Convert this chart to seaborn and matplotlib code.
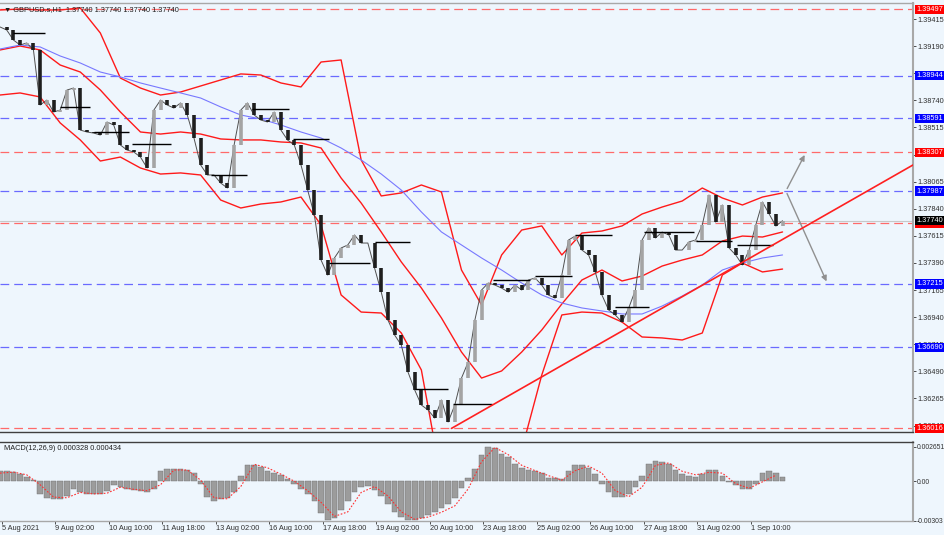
import numpy as np
import pandas as pd
import matplotlib
matplotlib.use("Agg")
import matplotlib.pyplot as plt
import seaborn as sns

# ---- data ----
# H1 closes sampled every 4 bars (bar index = 4*k)
closes = [1.39349, 1.39324, 1.39241, 1.39199, 1.39216, 1.39158, 1.38701, 1.38742, 1.38643, 1.38659,
          1.38825, 1.38842, 1.38493, 1.38477, 1.38468, 1.38452, 1.38560, 1.38535, 1.38369, 1.38327,
          1.38311, 1.38269, 1.38178, 1.38659, 1.38742, 1.38701, 1.38676, 1.38718, 1.38618, 1.38427,
          1.38203, 1.38120, 1.38120, 1.38053, 1.38012, 1.38369, 1.38659, 1.38718, 1.38618, 1.38576,
          1.38560, 1.38643, 1.38493, 1.38410, 1.38369, 1.38203, 1.37995, 1.37788, 1.37414, 1.37289,
          1.37431, 1.37514, 1.37539, 1.37622, 1.37555, 1.37555, 1.37348, 1.37148, 1.36916, 1.36791,
          1.36708, 1.36484, 1.36335, 1.36210, 1.36169, 1.36102, 1.36252, 1.36069, 1.36210, 1.36434,
          1.36567, 1.36916, 1.37165, 1.37223, 1.37206, 1.37181, 1.37148, 1.37206, 1.37165, 1.37248,
          1.37265, 1.37206, 1.37123, 1.37098, 1.37289, 1.37580, 1.37613, 1.37497, 1.37456, 1.37314,
          1.37123, 1.36999, 1.36957, 1.36899, 1.37015, 1.37165, 1.37580, 1.37680, 1.37597, 1.37646,
          1.37622, 1.37497, 1.37497, 1.37564, 1.37580, 1.37705, 1.37954, 1.37729, 1.37871, 1.37514,
          1.37456, 1.37373, 1.37497, 1.37705, 1.37896, 1.37796, 1.37696, 1.37740]

# Bollinger bands and moving average, sampled every 12 bars
bb_upper = [1.39490, 1.39498, 1.39490, 1.39490, 1.39507, 1.39299, 1.38925, 1.38842, 1.38784, 1.38809,
            1.38859, 1.38909, 1.38959, 1.38950, 1.38884, 1.38851, 1.39058, 1.39075, 1.38245, 1.37946,
            1.37971, 1.38037, 1.37979, 1.37331, 1.37041, 1.37456, 1.37663, 1.37697, 1.37456, 1.37638,
            1.37655, 1.37697, 1.37796, 1.37854, 1.37904, 1.38012, 1.37929, 1.37871, 1.37937, 1.37971]
bb_middle = [1.39158, 1.39191, 1.39158, 1.39033, 1.38975, 1.38826, 1.38643, 1.38477, 1.38460, 1.38477,
             1.38460, 1.38419, 1.38411, 1.38411, 1.38394, 1.38386, 1.38344, 1.38095, 1.37887, 1.37647,
             1.37398, 1.37182, 1.36933, 1.36650, 1.36434, 1.36493, 1.36650, 1.36833, 1.37049, 1.37248,
             1.37331, 1.37240, 1.37281, 1.37364, 1.37414, 1.37456, 1.37572, 1.37613, 1.37605, 1.37647]
bb_lower = [1.38784, 1.38801, 1.38768, 1.38552, 1.38411, 1.38236, 1.38269, 1.38178, 1.38128, 1.38137,
            1.38120, 1.37912, 1.37846, 1.37879, 1.37896, 1.37937, 1.37705, 1.37124, 1.36982, 1.36974,
            1.36808, 1.36501, 1.35588, 1.35338, 1.35297, 1.35421, 1.35837, 1.36459, 1.36958, 1.36982,
            1.36974, 1.36899, 1.36775, 1.36767, 1.36750, 1.36808, 1.37290, 1.37389, 1.37315, 1.37339]
ma_blue = [1.39166, 1.39199, 1.39183, 1.39108, 1.39050, 1.38975, 1.38934, 1.38884, 1.38842, 1.38801,
           1.38759, 1.38685, 1.38618, 1.38585, 1.38535, 1.38477, 1.38427, 1.38344, 1.38245, 1.38128,
           1.37995, 1.37813, 1.37647, 1.37539, 1.37431, 1.37331, 1.37223, 1.37124, 1.37057, 1.37016,
           1.36991, 1.36966, 1.36966, 1.37032, 1.37115, 1.37207, 1.37331, 1.37389, 1.37431, 1.37456]

# daily open markers: start bar, end bar, level
day_start = [8, 36, 56, 79, 126, 151, 175, 197, 224, 248, 271, 295, 320, 344, 368, 385, 416, 441]
day_end = [27, 54, 77, 102, 148, 173, 197, 221, 245, 268, 294, 317, 342, 366, 388, 415, 438, 462]
day_level = [1.39299, 1.38684, 1.38477, 1.38377, 1.38120, 1.38668, 1.38419, 1.37389, 1.37563, 1.36343,
             1.36218, 1.37248, 1.37281, 1.37622, 1.37024, 1.37646, 1.37572, 1.37539]

red_levels = [1.39497, 1.38307, 1.37719, 1.36016]
blue_levels = [1.38944, 1.38591, 1.37987, 1.37215, 1.36690]
last_price = 1.37740

trend_bars = [270, 546]
trend_prices = [1.36016, 1.38203]
arrow_from = (470, 1.37987)
arrow_up = (482, 1.38307)
arrow_down = (495, 1.37215)

# MACD main (every 4 bars) and signal (every 8 bars), in 1e-4
macd_main = [7.6, 7.6, 7.0, 5.4, 3.5, 0.8, -10.0, -12.7, -14.0, -13.5,
             -11.3, -5.9, -8.1, -9.5, -10.0, -10.0, -7.3, -3.2, -4.6, -5.9,
             -6.5, -7.3, -8.6, -5.9, 7.6, 9.7, 9.7, 9.7, 8.9, 6.2,
             -2.2, -12.2, -15.4, -14.0, -12.7, -8.6, 4.1, 12.4, 12.7, 10.8,
             7.6, 6.2, 4.9, 1.6, -2.2, -5.9, -9.5, -15.4, -24.3, -29.7,
             -28.1, -22.1, -14.9, -8.4, -4.3, -3.8, -6.8, -11.3, -17.6, -23.5,
             -27.5, -29.4, -29.7, -28.4, -25.9, -23.5, -20.8, -17.6, -12.7, -4.9,
             2.7, 9.5, 20.3, 26.5, 25.1, 21.1, 18.4, 13.0, 10.3, 8.9,
             8.1, 6.2, 2.7, 2.2, 1.4, 8.1, 12.4, 12.4, 10.0, 5.4,
             -1.9, -8.4, -11.9, -12.2, -9.5, -4.6, 4.1, 13.0, 15.4, 14.9,
             13.0, 8.9, 5.4, 3.8, 3.5, 5.4, 8.4, 8.6, 4.3, -0.5,
             -3.2, -5.9, -5.9, -2.2, 6.2, 8.1, 6.2, 3.3]
macd_signal = [6.2, 7.0, 4.9, -2.7, -12.2, -12.7, -8.6, -9.7, -9.2, -4.6,
               -6.2, -7.3, -2.7, 8.6, 8.6, 0.8, -12.7, -13.5, -4.1, 13.0,
               10.3, 5.4, 0.0, -7.3, -16.2, -27.0, -23.5, -8.6, -4.1, -11.3,
               -23.5, -29.2, -27.5, -23.8, -18.9, -5.9, 14.9, 25.9, 20.3, 12.2,
               8.1, 4.3, 0.8, 8.1, 11.6, 6.2, -7.3, -11.9, -4.6, 12.2,
               14.0, 7.6, 4.9, 6.8, 6.2, -1.9, -5.4, -0.5, 4.6]

tick_bars = [1, 33, 65, 97, 129, 161, 193, 225, 257, 289, 321, 353, 385, 417, 449]
tick_labels = ['5 Aug 2021', '9 Aug 02:00', '10 Aug 10:00', '11 Aug 18:00', '13 Aug 02:00',
               '16 Aug 10:00', '17 Aug 18:00', '19 Aug 02:00', '20 Aug 10:00', '23 Aug 18:00',
               '25 Aug 02:00', '26 Aug 10:00', '27 Aug 18:00', '31 Aug 02:00', '1 Sep 10:00']
price_ticks = [1.39415, 1.39190, 1.38965, 1.38740, 1.38515, 1.38290, 1.38065, 1.37840,
               1.37615, 1.37390, 1.37165, 1.36940, 1.36715, 1.36490, 1.36265, 1.36040]

# ---- frames ----
price_df = pd.DataFrame({'bar': np.arange(len(closes)) * 4, 'close': closes})
price_df['open'] = price_df['close'].shift(1).fillna(price_df['close'])
band_df = pd.DataFrame({'bar': np.arange(len(bb_upper)) * 12, 'upper': bb_upper,
                        'middle': bb_middle, 'lower': bb_lower, 'ma': ma_blue})
macd_df = pd.DataFrame({'bar': np.arange(len(macd_main)) * 4, 'macd': np.array(macd_main) * 1e-4})
sig_df = pd.DataFrame({'bar': np.arange(len(macd_signal)) * 8, 'signal': np.array(macd_signal) * 1e-4})

sns.set_theme(style='white')
plt.rcParams['font.family'] = ['Liberation Sans', 'DejaVu Sans']
BG = '#eef6fd'
FS = 5.3

fig = plt.figure(figsize=(9.45, 5.35), dpi=100, facecolor=BG)
ax = fig.add_axes([0.0, 0.1925, 0.9661, 0.8019], facecolor=BG)
ax2 = fig.add_axes([0.0, 0.0262, 0.9661, 0.1477], facecolor=BG, sharex=ax)

# level lines
for lv in red_levels:
    ax.axhline(lv, color='#ff6a6a', lw=0.9, dashes=(7, 4), zorder=1)
for lv in blue_levels:
    ax.axhline(lv, color='#6a6aff', lw=0.9, dashes=(7, 4), zorder=1)
ax.axhline(last_price, color='#c8c8c8', lw=0.8, zorder=1)

# price bars
up = price_df['close'] >= price_df['open']
lo = price_df[['open', 'close']].min(axis=1)
hi = price_df[['open', 'close']].max(axis=1)
sns.lineplot(data=price_df, x='bar', y='close', ax=ax, color='#505050', lw=0.7, zorder=3)
ax.vlines(price_df['bar'][up], lo[up], hi[up], color='#a4a4a4', lw=2.6, zorder=3)
ax.vlines(price_df['bar'][~up], lo[~up], hi[~up], color='#1e1e1e', lw=2.6, zorder=3)
ax.hlines(day_level, day_start, day_end, color='black', lw=1.0, zorder=4)

# indicators
for col in ['upper', 'middle', 'lower']:
    sns.lineplot(data=band_df, x='bar', y=col, ax=ax, color='#ff1a1a', lw=1.0, zorder=2)
sns.lineplot(data=band_df, x='bar', y='ma', ax=ax, color='#7878ff', lw=0.8, zorder=2)
ax.plot(trend_bars, trend_prices, color='#ff2020', lw=1.2, zorder=5)
for end in (arrow_up, arrow_down):
    ax.annotate('', xy=end, xytext=arrow_from,
                arrowprops=dict(arrowstyle='-|>', color='#909090', lw=1.0, mutation_scale=8))

ax.set_xlim(0, 546)
ax.set_ylim(1.35986, 1.39548)
ax.set_xlabel('')
ax.set_ylabel('')
ax.yaxis.tick_right()
ax.set_yticks(price_ticks)
ax.set_yticklabels([f'{p:.5f}' for p in price_ticks])
ax.tick_params(axis='y', right=True, length=2, width=0.6, labelsize=FS, pad=1, colors='#303030')
ax.tick_params(axis='x', bottom=False, labelbottom=False)

for lv, fc in [(l, '#ff0000') for l in red_levels] + [(l, '#0000ff') for l in blue_levels] + [(last_price, '#000000')]:
    ax.text(1.0035, lv, f'{lv:.5f}', transform=ax.get_yaxis_transform(), ha='left', va='center',
            fontsize=FS, color='white', zorder=10, clip_on=False,
            bbox=dict(boxstyle='square,pad=0.15', fc=fc, ec='none'))

ax.text(0.004, 0.992, '\u25bc GBPUSD.s,H1  1.37740 1.37740 1.37740 1.37740', transform=ax.transAxes,
        ha='left', va='top', fontsize=FS, color='#202020')

# MACD panel
ax2.bar(macd_df['bar'], macd_df['macd'], width=3.4, color='#9c9c9c', edgecolor='#6e6e6e', lw=0.3)
sns.lineplot(data=sig_df, x='bar', y='signal', ax=ax2, color='#ff3030', lw=0.8,
             linestyle=(0, (1.5, 1.5)))
ax2.set_ylim(-0.00305, 0.00301)
ax2.set_xlabel('')
ax2.set_ylabel('')
ax2.yaxis.tick_right()
ax2.set_yticks([0.002651, 0.0, -0.00303])
ax2.set_yticklabels(['0.002651', '0.00', '-0.00303'])
ax2.tick_params(axis='y', right=True, length=2, width=0.6, labelsize=4.9, pad=1, colors='#303030')
ax2.set_xticks(tick_bars)
ax2.set_xticklabels(tick_labels, ha='left')
ax2.tick_params(axis='x', bottom=True, length=2, width=0.6, labelsize=FS, pad=1, colors='#303030')
ax2.text(0.004, 0.96, 'MACD(12,26,9) 0.000328 0.000434', transform=ax2.transAxes,
         ha='left', va='top', fontsize=FS, color='#202020')

for a, top_c, bot_c in [(ax, '#a8a8a8', '#404040'), (ax2, '#404040', '#a8a8a8')]:
    a.spines['left'].set_visible(False)
    a.spines['right'].set_color('#a8a8a8')
    a.spines['right'].set_linewidth(1.5)
    a.spines['top'].set_color(top_c)
    a.spines['bottom'].set_color(bot_c)
    a.spines['top'].set_linewidth(1.0)
    a.spines['bottom'].set_linewidth(1.0)

fig.savefig('out.png', dpi=100, facecolor=BG)
